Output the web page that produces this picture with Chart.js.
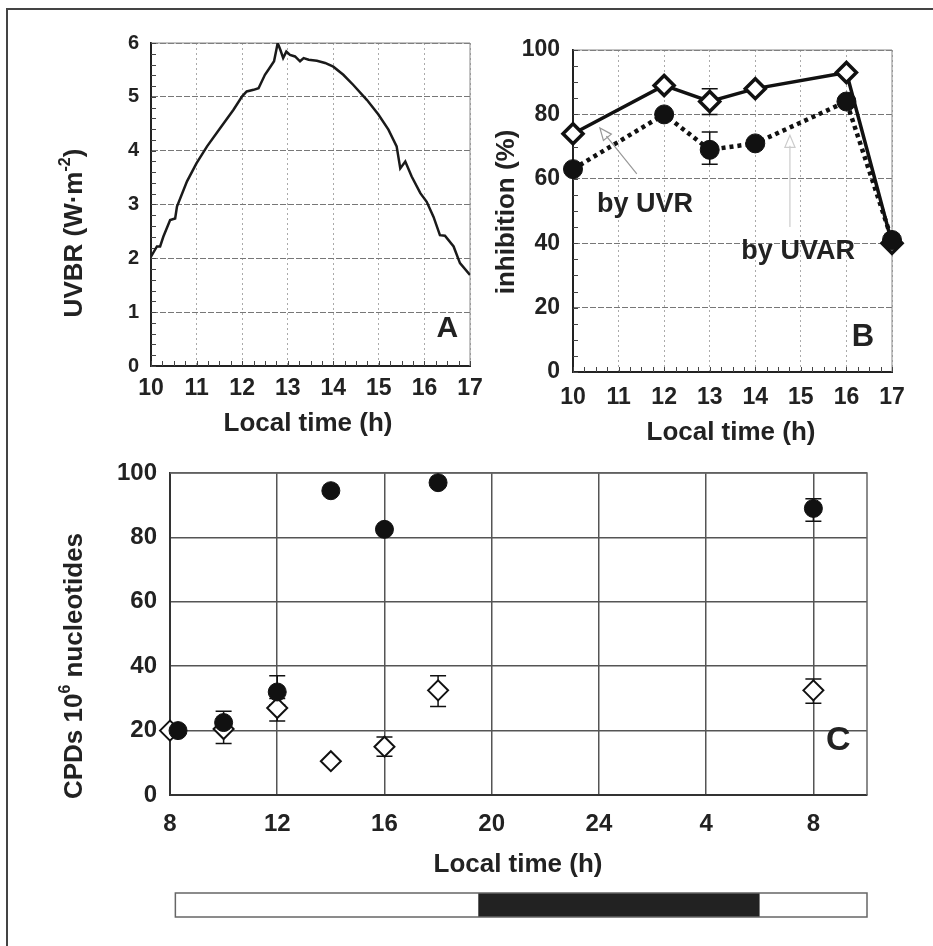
<!DOCTYPE html>
<html>
<head>
<meta charset="utf-8">
<script src="https://cdn.jsdelivr.net/npm/chart.js@4"></script>
<style>
  body { margin: 0; background: #fff; }
  #page { position: relative; width: 933px; height: 946px; overflow: hidden; background: #fff; }
  #frame { position: absolute; left: 6px; top: 8px; width: 960px; height: 960px; border-left: 2px solid #444; border-top: 2px solid #444; }
  canvas { position: absolute; left: 0; top: 0; }
</style>
</head>
<body>
<div id="page">
  <div id="frame"></div>
  <canvas id="chartA" width="933" height="946"></canvas>
  <canvas id="chartB" width="933" height="946"></canvas>
  <canvas id="chartC" width="933" height="946"></canvas>
</div>
<script>
// ---- panel A: UVBR over the day
const uvTime = [10.0,10.13,10.2,10.27,10.42,10.53,10.57,10.79,11.0,11.23,11.52,11.81,12.0,12.1,12.25,12.36,12.5,12.62,12.7,12.75,12.78,12.84,12.9,12.97,13.05,13.16,13.27,13.35,13.46,13.64,13.82,14.0,14.22,14.44,14.74,14.99,15.21,15.39,15.47,15.58,15.72,15.91,16.05,16.2,16.34,16.45,16.64,16.78,17.0];
const uvValue = [2.03,2.22,2.22,2.40,2.71,2.74,2.96,3.43,3.77,4.08,4.42,4.76,5.01,5.10,5.13,5.16,5.41,5.56,5.66,5.87,6.0,5.87,5.72,5.84,5.78,5.75,5.66,5.72,5.69,5.67,5.63,5.56,5.41,5.22,4.94,4.67,4.39,4.08,3.67,3.80,3.52,3.21,3.05,2.77,2.43,2.42,2.22,1.91,1.69];

// ---- panel B: inhibition (%)
const inhibTime = [10, 12, 13, 14, 16, 17];
const inhibUVR  = [74, 89, 84, 88, 93, 40];   // open diamonds, solid line
const inhibUVAR = [63, 80, 69, 71, 84, 41];   // filled circles, dotted line
const inhibUVRLo  = [null, null, 80, null, null, null];
const inhibUVRHi  = [null, null, 88, null, null, null];
const inhibUVARLo = [null, null, 64.5, null, null, null];
const inhibUVARHi = [null, null, 74.5, null, null, null];

// ---- panel C: CPDs per 10^6 nucleotides (hours counted past midnight: 32 = 8 h next day)
const cpdFilledTime = [8.3, 10, 12, 14, 16, 18, 32];
const cpdFilled     = [20, 22.5, 32, 94.5, 82.5, 97, 89];
const cpdFilledLo   = [null, null, 28, null, null, null, 85];
const cpdFilledHi   = [null, null, 37, null, null, null, 92];
const cpdOpenTime = [8, 10, 12, 14, 16, 18, 32];
const cpdOpen     = [20, 20.5, 27, 10.5, 15, 32.5, 32.5];
const cpdOpenLo   = [null, 16, 23, null, 12, 27.5, 28.5];
const cpdOpenHi   = [null, 26, 30, null, 18, 37, 36];
const xTicksC = [8, 12, 16, 20, 24, 28, 32];
const xTickLabelsC = ['8', '12', '16', '20', '24', '4', '8'];
// light / dark bar under panel C
const barEdges = [8.2, 19.5, 30, 34];
const barFill = ['#ffffff', '#222222', '#ffffff'];

const FONT = '"Liberation Sans", Arial, Helvetica, sans-serif';
const INK = '#222';
Chart.defaults.font.family = FONT;
Chart.defaults.font.weight = 'bold';
Chart.defaults.color = INK;

const pts = (xs, ys) => xs.map((x, i) => ({ x: x, y: ys[i] }));

function drawRich(ctx, parts, x, y, size, rotated) {
  ctx.save();
  ctx.translate(x, y);
  if (rotated) ctx.rotate(-Math.PI / 2);
  ctx.fillStyle = INK;
  ctx.textBaseline = 'middle';
  ctx.textAlign = 'left';
  let total = 0;
  const runs = parts.map(p => {
    const s = p.sup ? Math.round(size * 0.62) : size;
    ctx.font = 'bold ' + s + 'px ' + FONT;
    const w = ctx.measureText(p.t).width;
    total += w;
    return { t: p.t, s: s, w: w, sup: p.sup };
  });
  let cx = -total / 2;
  runs.forEach(r => {
    ctx.font = 'bold ' + r.s + 'px ' + FONT;
    ctx.fillText(r.t, cx, r.sup ? -size * 0.36 : 0);
    cx += r.w;
  });
  ctx.restore();
}

function frameTopRight(chart, color, width) {
  const { ctx, chartArea: a } = chart;
  ctx.save();
  ctx.strokeStyle = color;
  ctx.lineWidth = width;
  ctx.beginPath();
  ctx.moveTo(a.left, a.top);
  ctx.lineTo(a.right, a.top);
  ctx.lineTo(a.right, a.bottom);
  ctx.stroke();
  ctx.restore();
}

function innerTicks(chart, xStep, yStep, len) {
  const { ctx, chartArea: a, scales: { x, y } } = chart;
  ctx.save();
  ctx.strokeStyle = '#444';
  ctx.lineWidth = 1;
  ctx.beginPath();
  for (let v = x.min; v <= x.max + 1e-6; v += xStep) {
    const px = Math.round(x.getPixelForValue(v)) + 0.5;
    ctx.moveTo(px, a.bottom);
    ctx.lineTo(px, a.bottom - len);
  }
  for (let v = y.min; v <= y.max + 1e-6; v += yStep) {
    const py = Math.round(y.getPixelForValue(v)) + 0.5;
    ctx.moveTo(a.left, py);
    ctx.lineTo(a.left + len, py);
  }
  ctx.stroke();
  ctx.restore();
}

function errorBars(chart, xs, lo, hi, cap) {
  const { ctx, scales: { x, y } } = chart;
  ctx.save();
  ctx.strokeStyle = '#111';
  ctx.lineWidth = 1.5;
  ctx.beginPath();
  xs.forEach((xv, i) => {
    if (lo[i] == null) return;
    const px = x.getPixelForValue(xv);
    const p1 = y.getPixelForValue(lo[i]);
    const p2 = y.getPixelForValue(hi[i]);
    ctx.moveTo(px, p1); ctx.lineTo(px, p2);
    ctx.moveTo(px - cap, p1); ctx.lineTo(px + cap, p1);
    ctx.moveTo(px - cap, p2); ctx.lineTo(px + cap, p2);
  });
  ctx.stroke();
  ctx.restore();
}

function arrow(ctx, x1, y1, x2, y2, color) {
  const ang = Math.atan2(y2 - y1, x2 - x1);
  const h = 13;
  ctx.save();
  ctx.strokeStyle = color;
  ctx.lineWidth = 1.2;
  ctx.beginPath();
  ctx.moveTo(x1, y1);
  ctx.lineTo(x2 - Math.cos(ang) * h * 0.8, y2 - Math.sin(ang) * h * 0.8);
  ctx.moveTo(x2 - Math.cos(ang - 0.4) * h, y2 - Math.sin(ang - 0.4) * h);
  ctx.lineTo(x2, y2);
  ctx.lineTo(x2 - Math.cos(ang + 0.4) * h, y2 - Math.sin(ang + 0.4) * h);
  ctx.closePath();
  ctx.stroke();
  ctx.restore();
}

const common = {
  responsive: false,
  animation: false,
  events: [],
  plugins: { legend: { display: false }, tooltip: { enabled: false } }
};

// ---------------- Panel A
new Chart(document.getElementById('chartA'), {
  type: 'line',
  data: {
    datasets: [{
      data: pts(uvTime, uvValue),
      borderColor: '#1a1a1a',
      borderWidth: 2.5,
      pointRadius: 0,
      tension: 0,
      fill: false
    }]
  },
  options: Object.assign({}, common, {
    layout: { padding: { left: 91, top: 43, right: 463, bottom: 540 } },
    scales: {
      x: {
        type: 'linear', min: 10, max: 17,
        afterFit: s => { s.height = 40; },
        ticks: { stepSize: 1, padding: 9, font: { size: 23, weight: 'bold' }, color: INK, autoSkip: false, maxRotation: 0 },
        grid: { color: '#aaa', lineWidth: 1, drawTicks: false },
        border: { color: '#222', width: 2, dash: [2, 3] }
      },
      y: {
        min: 0, max: 6,
        afterFit: s => { s.width = 60; },
        ticks: { stepSize: 1, padding: 12, font: { size: 20, weight: 'bold' }, color: INK },
        grid: { color: '#777', lineWidth: 1, drawTicks: false },
        border: { color: '#222', width: 2, dash: [6, 2] }
      }
    }
  }),
  plugins: [{
    id: 'extrasA',
    beforeDatasetsDraw(chart) {
      frameTopRight(chart, '#888', 1);
      innerTicks(chart, 0.25, 0.2, 5);
    },
    afterDraw(chart) {
      const { ctx, scales: { x, y } } = chart;
      drawRich(ctx, [{ t: 'UVBR (W·m' }, { t: '-2', sup: true }, { t: ')' }], 75, 233, 26, true);
      drawRich(ctx, [{ t: 'Local time (h)' }], 308, 424, 26, false);
      drawRich(ctx, [{ t: 'A' }], x.getPixelForValue(16.5), y.getPixelForValue(0.7), 30, false);
    }
  }]
});

// ---------------- Panel B
new Chart(document.getElementById('chartB'), {
  type: 'line',
  data: {
    datasets: [{
      label: 'by UVR',
      data: pts(inhibTime, inhibUVR),
      borderColor: '#111',
      borderWidth: 3.5,
      pointStyle: 'rectRot',
      pointRadius: 10,
      pointBackgroundColor: '#fff',
      pointBorderColor: '#111',
      pointBorderWidth: 3.5,
      tension: 0,
      clip: false,
      order: 1
    }, {
      label: 'by UVAR',
      data: pts(inhibTime, inhibUVAR),
      borderColor: '#111',
      borderWidth: 4.5,
      borderDash: [4, 4],
      pointStyle: 'circle',
      pointRadius: 9.5,
      pointBackgroundColor: '#111',
      pointBorderColor: '#111',
      pointBorderWidth: 1,
      tension: 0,
      clip: false,
      order: 0
    }]
  },
  options: Object.assign({}, common, {
    layout: { padding: { left: 513, top: 50, right: 41, bottom: 534 } },
    scales: {
      x: {
        type: 'linear', min: 10, max: 17,
        afterFit: s => { s.height = 40; },
        ticks: { stepSize: 1, padding: 12, font: { size: 23, weight: 'bold' }, color: INK, autoSkip: false, maxRotation: 0 },
        grid: { color: '#aaa', lineWidth: 1, drawTicks: false },
        border: { color: '#222', width: 2, dash: [2, 3] }
      },
      y: {
        min: 0, max: 100,
        afterFit: s => { s.width = 60; },
        ticks: { stepSize: 20, padding: 13, font: { size: 23, weight: 'bold' }, color: INK },
        grid: { color: '#777', lineWidth: 1, drawTicks: false },
        border: { color: '#222', width: 2, dash: [6, 2] }
      }
    }
  }),
  plugins: [{
    id: 'extrasB',
    beforeDatasetsDraw(chart) {
      const { ctx, scales: { x, y } } = chart;
      frameTopRight(chart, '#888', 1);
      innerTicks(chart, 0.25, 5, 5);
      errorBars(chart, inhibTime, inhibUVRLo, inhibUVRHi, 8);
      errorBars(chart, inhibTime, inhibUVARLo, inhibUVARHi, 8);
      arrow(ctx, x.getPixelForValue(11.4), y.getPixelForValue(61.5), x.getPixelForValue(10.59), y.getPixelForValue(75.8), '#999');
      arrow(ctx, x.getPixelForValue(14.76), y.getPixelForValue(45), x.getPixelForValue(14.76), y.getPixelForValue(73.5), '#ccc');
    },
    afterDraw(chart) {
      const { ctx, scales: { x, y } } = chart;
      drawRich(ctx, [{ t: 'inhibition (%)' }], 507, 212, 26, true);
      drawRich(ctx, [{ t: 'Local time (h)' }], 731, 433, 26, false);
      drawRich(ctx, [{ t: 'by UVR' }], x.getPixelForValue(11.58), y.getPixelForValue(51.9), 27, false);
      drawRich(ctx, [{ t: 'by UVAR' }], x.getPixelForValue(14.94), y.getPixelForValue(37.3), 27, false);
      drawRich(ctx, [{ t: 'B' }], x.getPixelForValue(16.36), y.getPixelForValue(10.6), 31, false);
    }
  }]
});

// ---------------- Panel C
new Chart(document.getElementById('chartC'), {
  type: 'scatter',
  data: {
    datasets: [{
      label: 'filled',
      data: pts(cpdFilledTime, cpdFilled),
      pointStyle: 'circle',
      pointRadius: 9,
      pointBackgroundColor: '#111',
      pointBorderColor: '#111',
      pointBorderWidth: 1,
      clip: false,
      order: 0
    }, {
      label: 'open',
      data: pts(cpdOpenTime, cpdOpen),
      pointStyle: 'rectRot',
      pointRadius: 10,
      pointBackgroundColor: '#fff',
      pointBorderColor: '#111',
      pointBorderWidth: 2,
      clip: false,
      order: 1
    }]
  },
  options: Object.assign({}, common, {
    layout: { padding: { left: 110, top: 473, right: 66, bottom: 111 } },
    scales: {
      x: {
        type: 'linear', min: 8, max: 34,
        afterFit: s => { s.height = 40; },
        afterBuildTicks: s => { s.ticks = xTicksC.map(v => ({ value: v })); },
        ticks: {
          padding: 15, font: { size: 24, weight: 'bold' }, color: INK, autoSkip: false, maxRotation: 0,
          callback: v => xTickLabelsC[xTicksC.indexOf(v)]
        },
        grid: { color: '#555', lineWidth: 1.5, drawTicks: false },
        border: { color: '#333', width: 2 }
      },
      y: {
        min: 0, max: 100,
        afterFit: s => { s.width = 60; },
        ticks: { stepSize: 20, padding: 13, font: { size: 24, weight: 'bold' }, color: INK },
        grid: { color: '#555', lineWidth: 1.5, drawTicks: false },
        border: { color: '#333', width: 2 }
      }
    }
  }),
  plugins: [{
    id: 'extrasC',
    beforeDatasetsDraw(chart) {
      frameTopRight(chart, '#666', 1.5);
      errorBars(chart, cpdFilledTime, cpdFilledLo, cpdFilledHi, 8);
      errorBars(chart, cpdOpenTime, cpdOpenLo, cpdOpenHi, 8);
    },
    afterDraw(chart) {
      const { ctx, scales: { x, y } } = chart;
      drawRich(ctx, [{ t: 'CPDs 10' }, { t: '6', sup: true }, { t: ' nucleotides' }], 75, 666, 26, true);
      drawRich(ctx, [{ t: 'Local time (h)' }], 518, 865, 26, false);
      drawRich(ctx, [{ t: 'C' }], x.getPixelForValue(32.93), y.getPixelForValue(17), 34, false);
      // day / night bar
      const top = 893, h = 24;
      ctx.save();
      for (let i = 0; i < barFill.length; i++) {
        const x1 = x.getPixelForValue(barEdges[i]);
        const x2 = x.getPixelForValue(barEdges[i + 1]);
        ctx.fillStyle = barFill[i];
        ctx.fillRect(x1, top, x2 - x1, h);
      }
      ctx.strokeStyle = '#666';
      ctx.lineWidth = 1.5;
      const xa = x.getPixelForValue(barEdges[0]);
      const xb = x.getPixelForValue(barEdges[barEdges.length - 1]);
      ctx.strokeRect(xa, top, xb - xa, h);
      ctx.restore();
    }
  }]
});
</script>
</body>
</html>
